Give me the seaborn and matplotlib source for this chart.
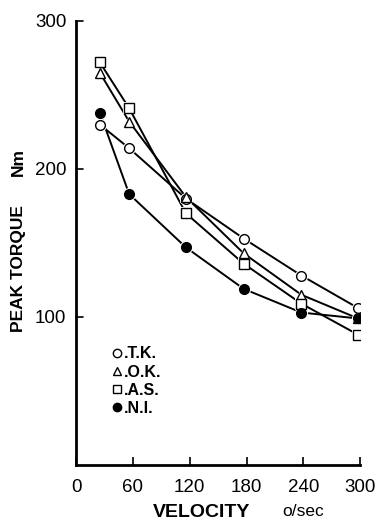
import pandas as pd
import matplotlib
matplotlib.use("Agg")
import matplotlib.pyplot as plt
import seaborn as sns

# velocities as plotted (deg/sec) and peak torque (Nm) per subject
velocity = [25, 56, 116, 177, 238, 298]
tk = [230, 214, 180, 153, 128, 106]
ok = [265, 232, 181, 143, 115, 99]
as_ = [272, 241, 170, 136, 109, 88]
ni = [238, 183, 147, 119, 103, 99]

subjects = ["T.K.", "O.K.", "A.S.", "N.I."]
markers = ["o", "^", "s", "o"]
faces = ["white", "white", "white", "black"]

df = pd.DataFrame({
    "velocity": velocity * 4,
    "torque": tk + ok + as_ + ni,
    "subject": sum([[s] * len(velocity) for s in subjects], []),
})

sns.set_style("ticks")
plt.rcParams["font.family"] = ["Liberation Sans", "DejaVu Sans"]
for k in ["text.color", "axes.labelcolor", "xtick.color", "ytick.color", "axes.edgecolor"]:
    plt.rcParams[k] = "black"

fig = plt.figure(figsize=(3.81, 5.24), dpi=100)
ax = fig.add_axes([0.2, 0.1126, 0.745, 0.8474])

handles = []
for i, (s, m, fc) in enumerate(zip(subjects, markers, faces)):
    sub = df[df["subject"] == s]
    ms = 7 if m == "o" else 6.5
    sns.lineplot(data=sub, x="velocity", y="torque", ax=ax, color="black",
                 linewidth=1.4, legend=False, zorder=2)
    # white halo so the lines stop short of the symbols
    sns.lineplot(data=sub, x="velocity", y="torque", ax=ax, linestyle="",
                 marker=m, markersize=ms + 2.5, markerfacecolor="white",
                 markeredgecolor="white", markeredgewidth=0, legend=False, zorder=3)
    sns.lineplot(data=sub, x="velocity", y="torque", ax=ax, linestyle="",
                 marker=m, markersize=ms, markerfacecolor=fc,
                 markeredgecolor="black", markeredgewidth=1.0, legend=False,
                 zorder=4 + i)
    handles.append(ax.lines[-1])

ax.set_xlim(0, 300)
ax.set_ylim(0, 300)
ax.set_xticks([0, 60, 120, 180, 240, 300])
ax.set_yticks([100, 200, 300])
ax.tick_params(axis="x", direction="in", length=6, width=1.2, labelsize=13.5, pad=10)
ax.tick_params(axis="y", direction="out", length=0, labelsize=13.5, pad=7)
# short tick marks to the right of the y axis
for yv in [100, 200, 300]:
    ax.plot([0, 7], [yv, yv], color="black", lw=1.2, clip_on=False)

for sp in ["top", "right"]:
    ax.spines[sp].set_visible(False)
for sp in ["left", "bottom"]:
    ax.spines[sp].set_linewidth(2)

ax.set_xlabel("")
ax.set_ylabel("")
fig.text(0.528, 0.006, "VELOCITY", fontsize=14, fontweight="bold", ha="center", va="bottom")
fig.text(0.796, 0.009, "o/sec", fontsize=12.5, ha="center", va="bottom")
fig.text(0.048, 0.487, "PEAK TORQUE", fontsize=12.5, fontweight="bold",
         rotation=90, ha="center", va="center")
fig.text(0.048, 0.69, "Nm", fontsize=12.5, fontweight="bold",
         rotation=90, ha="center", va="center")

leg = ax.legend(handles, ["." + s for s in subjects], loc="upper left",
                bbox_to_anchor=(0.1, 0.285), frameon=False, handlelength=0.6,
                handletextpad=0.1, labelspacing=0.2, borderpad=0,
                prop={"weight": "bold", "size": 11.5})
for h in leg.legend_handles:
    h.set_linestyle("None")
    h.set_markersize(6)

plt.savefig("out.png", dpi=100)
